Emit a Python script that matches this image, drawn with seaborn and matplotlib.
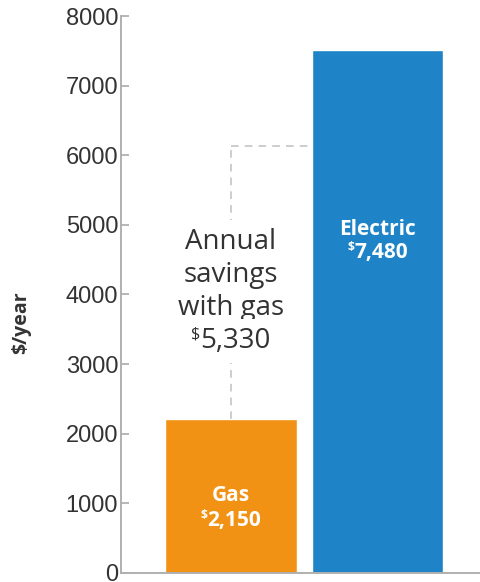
import seaborn as sns
import matplotlib.pyplot as plt
import pandas as pd
from matplotlib.transforms import offset_copy

# -- DATA -- #
fuels = ['Gas', 'Electric']
costs = [2150, 7480]            # values printed on the bars
bar_heights = [2210, 7510]      # bar tops as drawn in the chart
bar_colors = ['#F29214', '#1F84C7']
savings = 5330
guide_top = 6130
yticks = [0, 1000, 2000, 3000, 4000, 5000, 6000, 7000, 8000]

sns.set_style('white')
plt.rcParams['font.family'] = ['Liberation Sans', 'DejaVu Sans']

DPI = 100
df = pd.DataFrame({'fuel': fuels, 'height': bar_heights})

fig = plt.figure(figsize=(4.81, 5.82), dpi=DPI)
ax = fig.add_axes([0.2516, 0.0155, 0.75, 0.957])

sns.barplot(data=df, x='fuel', y='height', hue='fuel', palette=bar_colors,
            width=0.897, legend=False, ax=ax, saturation=1, zorder=2)

humanist = ['Open Sans', 'DejaVu Sans']

ax.set_xlim(-0.75, 1.71)
ax.set_ylim(0, 8000)
ax.set_yticks(yticks)
ax.set_yticklabels([str(t) for t in yticks], fontsize=17, color='#333333')
ax.set_xticks([])
ax.set_xlabel('')
ax.set_ylabel('$/year', fontsize=14, fontweight='bold', color='#333333',
              family=humanist)
ax.yaxis.set_label_coords(-0.25, 0.45)
ax.tick_params(axis='y', direction='in', length=6, width=1.2,
               color='#aaaaaa', pad=2, left=True)

for side in ['top', 'right']:
    ax.spines[side].set_visible(False)
for side in ['left', 'bottom']:
    ax.spines[side].set_color('#b0b0b0')
    ax.spines[side].set_linewidth(1.4)

# dashed guide from the gas bar up and across to the electric bar
dash = dict(color='#c0c0c0', lw=1.1, ls=(0, (5, 4)), zorder=1)
ax.plot([0, 0], [bar_heights[0], guide_top], **dash)
ax.plot([0, 1 - 0.897 / 2], [guide_top, guide_top], **dash)

renderer = fig.canvas.get_renderer()


def money(x, y, value, size, bbox=None, **kw):
    # small raised dollar sign followed by the amount, centred on x
    num = ax.text(x, y, f'{value:,}', fontsize=size, ha='left',
                  va='baseline', zorder=3, bbox=bbox, **kw)
    sym = ax.text(x, y, '$', fontsize=size * 0.58, ha='left', va='baseline',
                  zorder=4, **kw)
    ws = sym.get_window_extent(renderer).width * 72 / DPI
    wn = num.get_window_extent(renderer).width * 72 / DPI
    start = -(ws + wn) / 2
    sym.set_transform(offset_copy(ax.transData, fig, x=start,
                                  y=size * 0.33, units='points'))
    num.set_transform(offset_copy(ax.transData, fig, x=start + ws,
                                  units='points'))


box = dict(facecolor='white', edgecolor='none', pad=6)
ax.text(0, 3710, 'Annual\nsavings\nwith gas', ha='center', va='baseline',
        fontsize=20, color='#333333', family=humanist, linespacing=1.22,
        zorder=3, bbox=box)
money(0, 3230, savings, 20, bbox=box, color='#333333', family=humanist)

name_y = [1040, 4860]
value_y = [675, 4530]
for i, (name, val) in enumerate(zip(fuels, costs)):
    ax.text(i, name_y[i], name, ha='center', va='baseline', fontsize=15,
            fontweight='bold', color='white', family=humanist, zorder=3)
    money(i, value_y[i], val, 15, color='white', fontweight='bold',
          family=humanist)

plt.savefig('out.png', dpi=DPI)
